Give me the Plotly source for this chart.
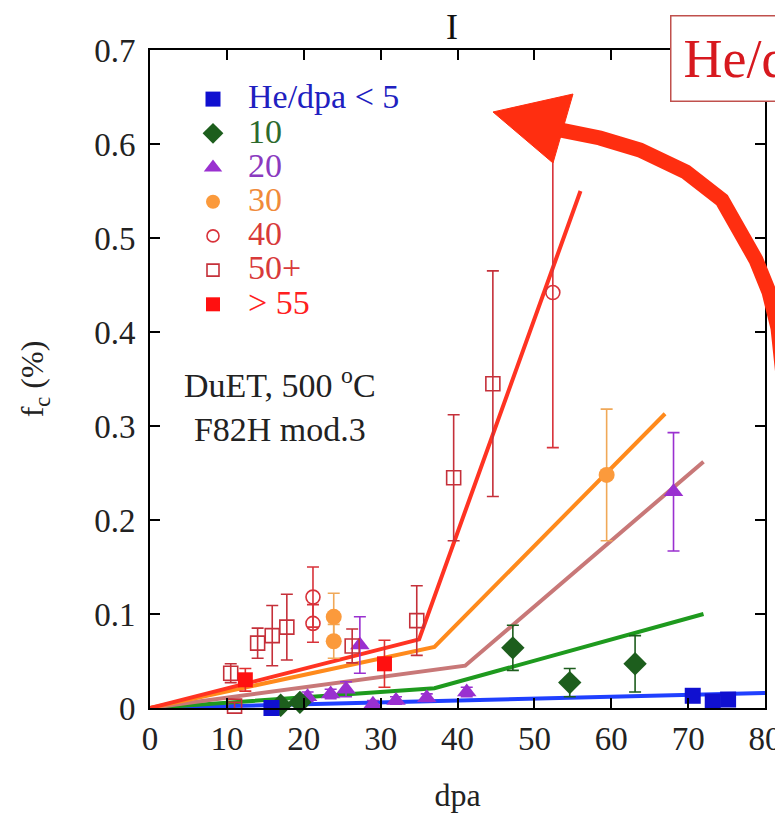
import plotly.graph_objects as go

# ---------------- data ----------------
blue_x = [15.8, 70.6, 73.2, 75.2]
blue_y = [0.000, 0.013, 0.007, 0.009]

green_x = [17.0, 19.5, 47.2, 54.6, 63.1]
green_y = [0.003, 0.006, 0.064, 0.027, 0.047]
green_e = [0.003, 0.004, 0.024, 0.015, 0.030]

purple_x = [20.5, 23.5, 25.5, 27.3, 29.0, 32.0, 36.0, 41.2, 68.1]
purple_y = [0.012, 0.015, 0.020, 0.067, 0.004, 0.008, 0.011, 0.017, 0.230]
purple_e = [0.005, 0.005, 0.008, 0.030, 0.004, 0.004, 0.004, 0.005, 0.063]

orange_x = [23.9, 23.9, 59.4]
orange_y = [0.097, 0.071, 0.248]
orange_e = [0.025, 0.018, 0.070]

circ40_x = [21.2, 21.2, 52.4]
circ40_y = [0.118, 0.090, 0.442]
circ40_e = [0.032, 0.020, 0.165]

sq50_x = [10.5, 11.0, 14.0, 15.9, 17.8, 26.3, 34.7, 39.5, 44.6]
sq50_y = [0.037, 0.002, 0.069, 0.077, 0.086, 0.066, 0.093, 0.245, 0.345]
sq50_e = [0.010, 0.004, 0.016, 0.032, 0.035, 0.018, 0.037, 0.067, 0.120]

sq55_x = [12.4, 30.5]
sq55_y = [0.030, 0.047]
sq55_e = [0.012, 0.025]

# fit lines
red_line_x = [0, 35, 56]
red_line_y = [0, 0.073, 0.55]
orange_line_x = [0, 37, 67]
orange_line_y = [0, 0.065, 0.313]
rose_line_x = [0, 41, 72]
rose_line_y = [0, 0.045, 0.262]
green_line_x = [0, 37, 72]
green_line_y = [0, 0.021, 0.100]
blue_line_x = [0, 80]
blue_line_y = [0, 0.016]

legend_labels = ["He/dpa &lt; 5", "10", "20", "30", "40", "50+", "&gt; 55"]
x_ticks = [0, 10, 20, 30, 40, 50, 60, 70, 80]
y_ticks = [0, 0.1, 0.2, 0.3, 0.4, 0.5, 0.6, 0.7]

# ---------------- styling ----------------
FONT = "Liberation Serif"
C_BLUE = "#1010d0"
C_GREEN = "#1d5e1d"
C_PURPLE = "#9a30d0"
C_ORANGE = "#fb9a3c"
C_RED40 = "#d8323a"
C_RED50 = "#c5303a"
C_RED55 = "#ff1010"

# page body has an 8 px margin, so the figure is offset by 8 px
OFF = 8
W, H = 783 - OFF, 821 - 2 * OFF
PL, PR, PT, PB = 150, 765, 50, 708          # plot area in window pixels
L, T = PL - OFF, PT - OFF
R = W - (PR - OFF)
B = H - (PB - OFF)


def px(X):
    return (X - PL) / (PR - PL)


def py(Y):
    return (PB - Y) / (PB - PT)


fig = go.Figure()

# lines
for lx, ly, col in [
    (blue_line_x, blue_line_y, "#2040ff"),
    (green_line_x, green_line_y, "#1e9a1e"),
    (rose_line_x, rose_line_y, "#c87878"),
    (orange_line_x, orange_line_y, "#ff8a1c"),
    (red_line_x, red_line_y, "#ff3322"),
]:
    fig.add_trace(go.Scatter(x=lx, y=ly, mode="lines", line=dict(color=col, width=4),
                             showlegend=False, hoverinfo="skip"))


def pts(x, y, e, color, symbol, size, ecolor=None, open_=False):
    marker = dict(color=color, symbol=symbol, size=size)
    if open_:
        marker["line"] = dict(color=color, width=1.6)
    tr = go.Scatter(x=x, y=y, mode="markers", marker=marker, showlegend=False,
                    cliponaxis=False)
    if e is not None:
        tr.error_y = dict(type="data", array=e, visible=True, color=ecolor or color,
                          thickness=1.6, width=6)
    fig.add_trace(tr)


pts(purple_x, purple_y, purple_e, C_PURPLE, "triangle-up", 17)
pts(green_x, green_y, green_e, C_GREEN, "diamond", 18)
pts(orange_x, orange_y, orange_e, C_ORANGE, "circle", 16, ecolor="#f0a858")
pts(circ40_x, circ40_y, circ40_e, C_RED40, "circle-open", 14, open_=True)
pts(sq50_x, sq50_y, sq50_e, C_RED50, "square-open", 14, open_=True)
pts(sq55_x, sq55_y, sq55_e, C_RED55, "square", 15, ecolor="#e03030")
pts(blue_x, blue_y, None, C_BLUE, "square", 16)

# legend entries
leg = [
    (C_BLUE, "square", 15, "#2020c0"),
    (C_GREEN, "diamond", 17, "#2d6a2d"),
    (C_PURPLE, "triangle-up", 16, "#8a3ac0"),
    (C_ORANGE, "circle", 14, "#f08a3a"),
    (C_RED40, "circle-open", 12, "#d83a3a"),
    (C_RED50, "square-open", 12, "#d83a3a"),
    (C_RED55, "square", 14, "#ff2020"),
]
for (mc, sym, sz, tc), lab in zip(leg, legend_labels):
    m = dict(color=mc, symbol=sym, size=sz)
    if "open" in sym:
        m["line"] = dict(color=mc, width=1.6)
    fig.add_trace(go.Scatter(
        x=[None], y=[None], mode="markers", marker=m,
        name=f'<span style="font-size:34px;color:{tc}">{lab}</span>'))

axis_common = dict(
    showline=True, linecolor="black", linewidth=2, mirror="ticks",
    ticks="inside", ticklen=10, tickwidth=2, tickcolor="black",
    showgrid=False, zeroline=False,
    tickfont=dict(family=FONT, size=33, color="#222"),
)

fig.update_layout(
    width=W, height=H,
    margin=dict(l=L, r=R, t=T, b=B, autoexpand=False),
    paper_bgcolor="white", plot_bgcolor="white",
    font=dict(family=FONT, color="#222"),
    xaxis=dict(range=[0, 80], tickvals=x_ticks, ticktext=[str(v) for v in x_ticks],
               title=dict(text="dpa", font=dict(family=FONT, size=32), standoff=34),
               **axis_common),
    yaxis=dict(range=[0, 0.7], tickvals=y_ticks,
               ticktext=["0"] + [f"{v:.1f}" for v in y_ticks[1:]],
               ticklabelstandoff=6,
               title=dict(text="f<sub>c</sub> (%)", font=dict(family=FONT, size=32),
                          standoff=41),
               **axis_common),
    showlegend=True,
    legend=dict(x=px(178), y=py(77), xanchor="left", yanchor="top",
                bgcolor="rgba(0,0,0,0)", font=dict(family=FONT, size=24),
                itemwidth=60, tracegroupgap=0),
)

# title "I"
fig.add_annotation(text="I", xref="paper", yref="paper", x=px(452), y=py(27),
                   xanchor="center", yanchor="middle",
                   showarrow=False, font=dict(family=FONT, size=36, color="#111"))

# inset text
fig.add_annotation(text="DuET, 500 <sup>o</sup>C<br>F82H mod.3", xref="paper", yref="paper",
                   x=px(280), y=py(405), xanchor="center", yanchor="middle",
                   showarrow=False, align="center",
                   font=dict(family=FONT, size=34, color="#222"))

# cut-off label box at top right
fig.add_annotation(text="He/dpa", xref="paper", yref="paper", x=px(670), y=py(58),
                   xanchor="left", yanchor="middle", showarrow=False,
                   font=dict(family=FONT, size=54, color="#d7191f"),
                   bordercolor="#c0504d", borderwidth=1.5, borderpad=12,
                   bgcolor="white")

# big curved arrow
shaft = [(792, 460), (784, 385), (778, 328), (769, 292), (756, 260), (722, 200),
         (686, 172), (640, 150), (600, 138), (556, 129)]
path = "M " + " L ".join(f"{px(a):.4f},{py(b):.4f}" for a, b in shaft)
fig.add_shape(type="path", xref="paper", yref="paper", path=path,
              line=dict(color="#ff2e10", width=15))
head = [(493, 112), (573, 94), (553, 163)]
hpath = "M " + " L ".join(f"{px(a):.4f},{py(b):.4f}" for a, b in head) + " Z"
fig.add_shape(type="path", xref="paper", yref="paper", path=hpath,
              fillcolor="#ff2e10", line=dict(color="#ff2e10", width=1))

fig.write_html("out.html")
